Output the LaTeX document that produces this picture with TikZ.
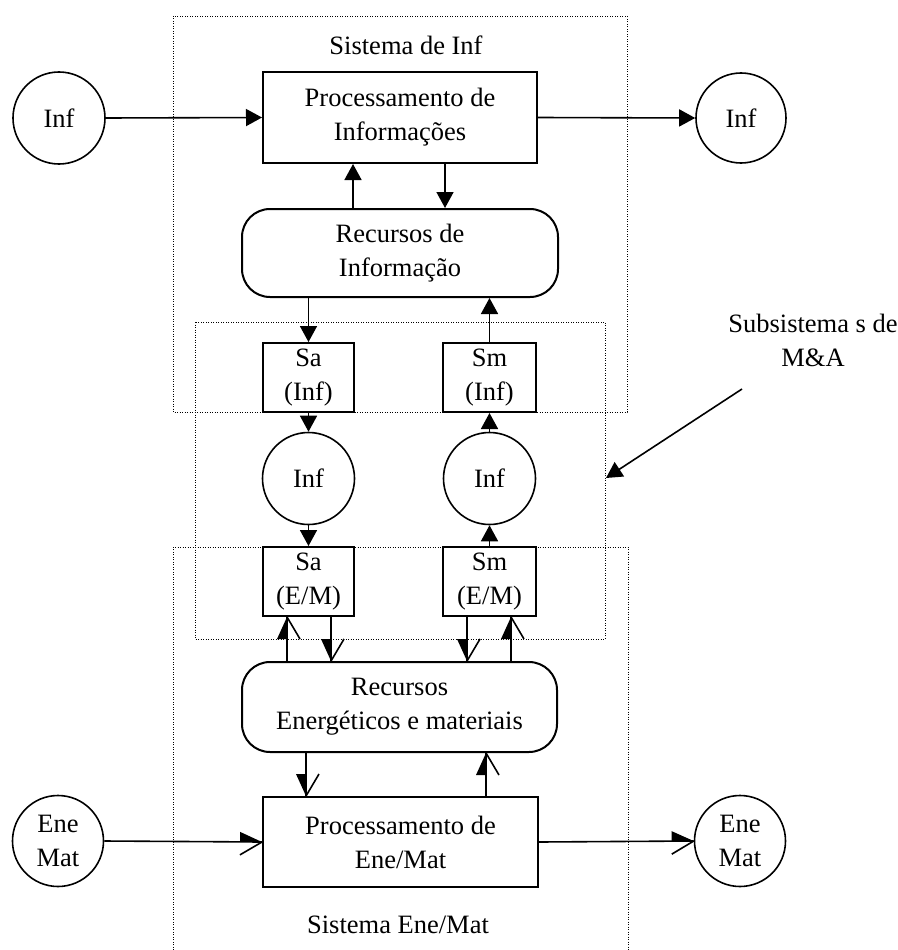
\documentclass[tikz,border=0pt]{standalone}
\usepackage{fontspec}
\setmainfont{Liberation Serif}
\usetikzlibrary{arrows.meta}
\pgfdeclarearrow{
  name = HL,
  parameters = {\the\pgflinewidth},
  setup code = {
    \pgfarrowssettipend{0pt}
    \pgfarrowssetlineend{0pt}
    \pgfarrowssetvisualbackend{-22pt}
    \pgfarrowssetbackend{-22pt}
    \pgfarrowshullpoint{0pt}{0pt}
    \pgfarrowshullpoint{-22pt}{10pt}
    \pgfarrowshullpoint{-22pt}{-13pt}
  },
  drawing code = {
    \pgfpathmoveto{\pgfpointorigin}
    \pgfpathlineto{\pgfpoint{-22pt}{10pt}}
    \pgfpathlineto{\pgfpoint{-22pt}{0pt}}
    \pgfpathclose
    \pgfusepathqfill
    \pgfpathmoveto{\pgfpointorigin}
    \pgfpathlineto{\pgfpoint{-22pt}{-13pt}}
    \pgfusepathqstroke
  }
}
\pgfdeclarearrow{
  name = HR,
  parameters = {\the\pgflinewidth},
  setup code = {
    \pgfarrowssettipend{0pt}
    \pgfarrowssetlineend{0pt}
    \pgfarrowssetvisualbackend{-22pt}
    \pgfarrowssetbackend{-22pt}
    \pgfarrowshullpoint{0pt}{0pt}
    \pgfarrowshullpoint{-22pt}{-10pt}
    \pgfarrowshullpoint{-22pt}{13pt}
  },
  drawing code = {
    \pgfpathmoveto{\pgfpointorigin}
    \pgfpathlineto{\pgfpoint{-22pt}{-10pt}}
    \pgfpathlineto{\pgfpoint{-22pt}{0pt}}
    \pgfpathclose
    \pgfusepathqfill
    \pgfpathmoveto{\pgfpointorigin}
    \pgfpathlineto{\pgfpoint{-22pt}{13pt}}
    \pgfusepathqstroke
  }
}
\begin{document}
\begin{tikzpicture}[x=1pt,y=-1pt,
  txt/.style={font=\fontsize{26.5}{34}\selectfont, align=center},
  box/.style={txt, draw, line width=2pt, inner sep=0pt},
  rbox/.style={box, rounded corners=28pt},
  circ/.style={txt, draw, circle, line width=1.6pt, minimum size=92pt, inner sep=0pt},
  dotbox/.style={line width=0.9pt, dash pattern=on 0.9pt off 1.6pt},
  conn/.style={line width=1.6pt},
  full/.style={conn, -{Triangle[length=16pt,width=17pt]}},
  halfl/.style={conn, -{HL}},
  halfr/.style={conn, -{HR}}]
\useasboundingbox (0,0) rectangle (897,950);

% dotted system boundaries
\draw[dotbox] (173,16) rectangle (627,412);
\draw[dotbox] (195,322) rectangle (605,639);
\draw[dotbox] (173,950) -- (173,547) -- (628,547) -- (628,950);

% labels
\node[txt] (lsi) at (406,45) {Sistema de Inf};
\node[txt] (lse) at (398,925) {Sistema Ene/Mat};
\node[txt] (lma) at (813,340) {Subsistema s de\\M\&A};

% information system
\node[box, minimum width=274pt, minimum height=91pt] (procinf) at (400,117.5) {Processamento de\\Informações};
\node[circ] (inL) at (59,118) {Inf};
\node[circ, minimum size=90pt] (inR) at (741,118) {Inf};
\node[rbox, minimum width=316pt, minimum height=88pt] (recinf) at (400,253) {Recursos de\\Informação};
\node[box, minimum width=91pt, minimum height=69pt] (sainf) at (308.5,377.5) {Sa\\(Inf)};
\node[box, minimum width=93pt, minimum height=69pt] (sminf) at (489.5,377.5) {Sm\\(Inf)};

% middle circles
\node[circ] (circA) at (308.5,478.5) {Inf};
\node[circ] (circM) at (489.5,478.5) {Inf};

% energy / material system
\node[box, minimum width=91pt, minimum height=69pt] (saem) at (308.5,581.5) {Sa\\(E/M)};
\node[box, minimum width=93pt, minimum height=69pt] (smem) at (489.5,581.5) {Sm\\(E/M)};
\node[rbox, minimum width=315pt, minimum height=90pt] (recen) at (399.5,707) {Recursos\\Energéticos e materiais};
\node[box, minimum width=275pt, minimum height=90pt] (procen) at (400.5,842) {Processamento de\\Ene/Mat};
\node[circ, minimum size=91pt] (emL) at (58,841) {Ene\\Mat};
\node[circ, minimum size=91pt] (emR) at (740,841) {Ene\\Mat};

% x positions of the vertical connectors
\coordinate (xa) at (353,0);
\coordinate (xb) at (445,0);
\coordinate (xc) at (287,0);
\coordinate (xd) at (331,0);
\coordinate (xe) at (467,0);
\coordinate (xf) at (511,0);
\coordinate (xg) at (306,0);
\coordinate (xh) at (486,0);

% connectors, information side
\draw[full] (inL.east) -- (procinf.west);
\draw[full] (procinf.east) -- (inR.west);
\draw[full] (recinf.north -| xa) -- (procinf.south -| xa);
\draw[full] (procinf.south -| xb) -- (recinf.north -| xb);
\draw[full] (recinf.south -| sainf.north) -- (sainf.north);
\draw[full] (sminf.north) -- (recinf.south -| sminf.north);
\draw[full] (sainf.south) -- (circA.north);
\draw[full] (circA.south) -- (saem.north);
\draw[full] (smem.north) -- (circM.south);
\draw[full] (circM.north) -- (sminf.south);

% connectors, energy / material side
\draw[halfl] (recen.north -| xc) -- (saem.south -| xc);
\draw[halfr] (saem.south -| xd) -- (recen.north -| xd);
\draw[halfr] (smem.south -| xe) -- (recen.north -| xe);
\draw[halfl] (recen.north -| xf) -- (smem.south -| xf);
\draw[halfr] (recen.south -| xg) -- (procen.north -| xg);
\draw[halfl] (procen.north -| xh) -- (recen.south -| xh);
\draw[halfl] (emL.east) -- (procen.west);
\draw[halfl] (procen.east) -- (emR.west);

% pointer to the M&A subsystems
\coordinate (mastart) at (742,389);
\coordinate (matip) at (606,478);
\draw[full] (mastart) -- (matip);
\end{tikzpicture}
\end{document}
